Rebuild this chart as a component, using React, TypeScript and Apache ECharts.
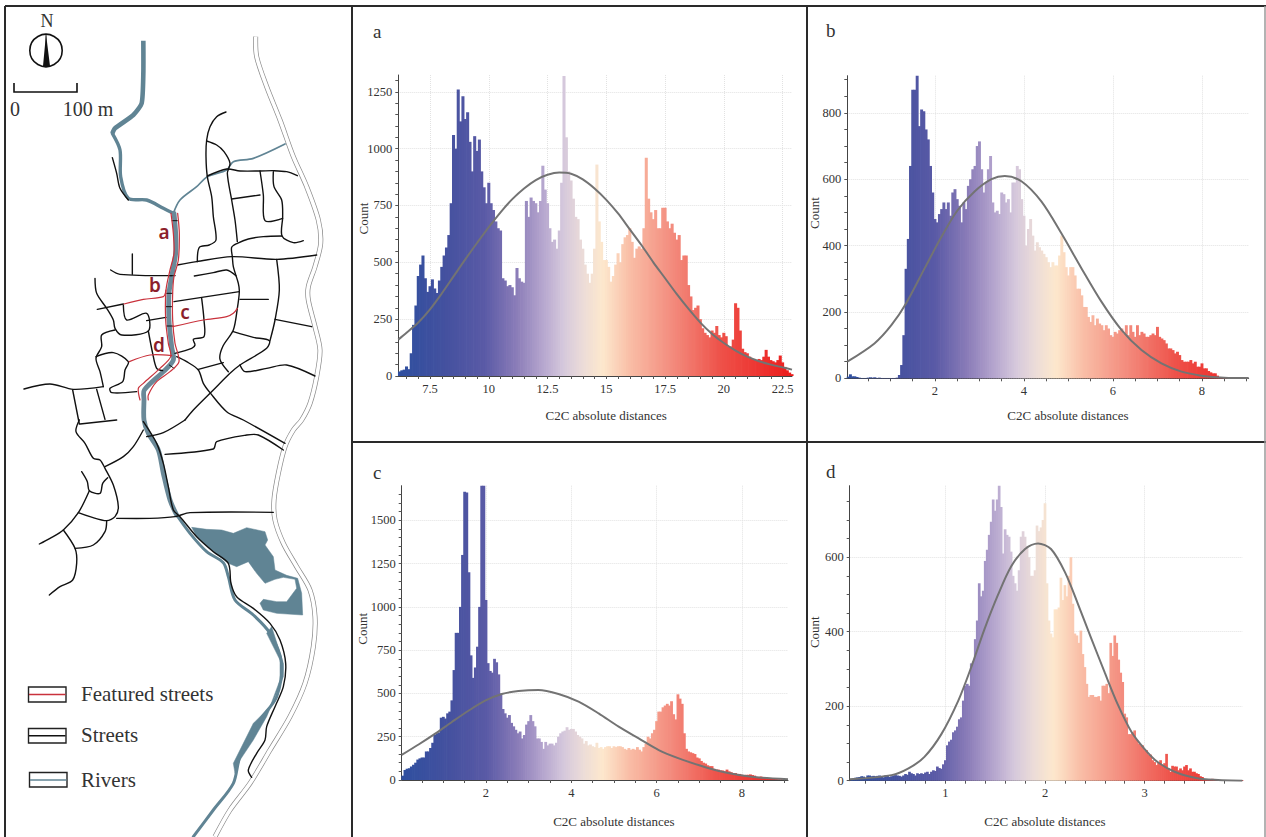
import React, { useEffect, useRef } from "react";
import * as echarts from "echarts";

const SERIF = "'Liberation Serif', serif";
const TEXT = "#333";

// ---------- histogram counts ----------
const A_START = 6.2, A_STEP = 0.1;
const A_COUNTS = [20,25,28,42,30,100,225,310,440,490,530,430,370,395,425,385,365,420,480,530,565,620,760,1060,1000,1260,1120,1230,1130,1160,1030,900,1055,990,1040,900,830,760,850,760,730,680,650,640,430,420,395,400,390,355,475,430,415,410,770,700,785,770,760,720,770,925,820,760,650,590,600,560,640,850,1320,1050,900,860,780,700,690,600,560,490,450,410,450,560,930,680,590,510,510,480,415,440,490,540,500,580,610,620,650,590,520,560,570,560,650,960,780,720,690,730,650,650,740,740,680,650,670,630,600,620,510,530,530,400,350,290,300,310,250,210,190,180,170,200,190,220,180,170,190,175,130,130,160,320,300,200,120,105,100,85,75,75,70,75,70,85,115,85,70,65,60,70,90,60,40,25,15,8];
const A_CURVE_X = [6.15,6.5,7,7.5,8,8.5,9,9.5,10,10.5,11,11.5,12,12.5,13,13.5,14,14.5,15,15.5,16,16.5,17,17.5,18,18.5,19,19.5,20,20.5,21,21.5,22,22.5,22.9];
const A_CURVE_Y = [160,190,235,293,363,438,513,585,655,720,778,825,862,885,895,890,865,825,775,715,645,575,500,430,360,295,235,185,145,112,85,65,50,38,28];

const B_START = 0.05, B_STEP = 0.05;
const B_COUNTS = [5,12,6,6,4,2,1,1,1,2,3,2,3,1,2,1,1,1,1,1,1,1,2,10,40,130,330,420,640,870,870,915,760,810,805,750,720,640,560,480,470,495,510,530,510,530,490,560,570,540,520,470,530,510,580,600,630,640,700,714,630,560,590,630,670,530,500,505,495,560,555,530,540,500,590,590,640,630,540,490,400,450,480,430,385,410,395,385,375,365,350,335,350,340,340,370,430,380,335,310,335,335,310,270,270,250,215,215,185,170,190,160,180,165,160,145,160,150,130,125,140,135,145,150,135,160,130,160,140,125,160,130,140,135,125,125,130,135,130,155,125,120,115,105,90,90,85,75,80,70,55,50,50,50,55,45,50,35,35,45,30,30,22,18,15,15,8,4,3,2,2,1,1,1,1,1,1,1,1,1];
const B_CURVE_X = [0.03,0.64,1.02,1.36,1.77,2.14,2.5,2.89,3.27,3.57,3.95,4.39,4.84,5.29,5.74,6.19,6.64,7.09,7.54,7.99,8.5,9.05];
const B_CURVE_Y = [50,105,160,228,332,425,505,563,600,610,593,533,437,332,231,146,85,45,20,8,2,1];

const C_START = 0.05, C_STEP = 0.05;
const C_COUNTS = [25,58,65,68,78,88,100,118,125,130,130,165,165,185,215,260,270,275,360,365,355,385,395,460,635,850,850,1000,1300,1665,1660,1200,720,590,650,770,1000,1700,1700,1040,675,630,620,700,680,610,500,410,385,360,375,330,310,290,270,280,240,260,320,340,375,340,310,240,240,220,180,220,200,210,210,200,215,250,270,280,285,305,290,295,295,280,260,250,240,210,225,200,205,195,190,215,185,190,180,190,195,195,185,195,190,195,195,190,180,175,185,175,180,175,190,175,165,190,210,250,240,270,290,340,395,395,420,430,440,430,455,380,350,495,470,440,270,180,165,160,155,150,130,125,110,100,95,85,80,80,65,60,60,55,55,50,60,50,45,40,40,35,35,30,28,30,30,32,28,25,18,18,20,16,14,12,10,8,6,5,4,3,2,2];
const C_CURVE_X = [0.024,0.42,0.81,1.2,1.59,1.98,2.37,2.76,3.23,3.7,4.17,4.64,5.11,5.58,6.05,6.52,7,7.46,7.93,8.39,9.08];
const C_CURVE_Y = [145,205,268,335,400,458,497,514,520,497,453,385,308,240,173,125,85,52,29,14,4];

const D_START = 0.06, D_STEP = 0.02;
const D_COUNTS = [4,6,8,9,10,12,11,8,14,14,12,13,12,13,14,10,9,14,15,10,12,14,15,14,13,11,14,18,16,24,20,18,14,20,18,20,18,22,24,18,24,28,26,38,34,32,44,55,95,105,110,130,135,145,165,170,215,255,260,255,315,320,380,430,530,495,510,590,620,660,695,755,725,755,792,735,610,675,660,655,615,550,530,510,565,655,670,655,630,600,550,550,565,685,670,680,700,745,530,430,395,385,460,460,465,545,485,525,495,550,600,475,395,390,370,403,340,305,260,225,230,230,225,225,227,215,255,255,260,235,370,335,390,370,325,290,265,180,170,125,125,130,135,110,100,95,95,82,82,70,70,55,50,42,50,55,42,47,72,33,24,40,38,38,28,33,28,38,42,28,33,24,24,20,18,12,10,4,3,2,2,5,2,1,1,1,1,1,1,1,1,1,1,1,1,1,1];
const D_CURVE_X = [0.04,0.46,0.63,0.79,0.96,1.13,1.26,1.39,1.53,1.66,1.8,1.93,2.06,2.2,2.33,2.46,2.6,2.73,2.87,3,3.13,3.3,3.47,3.64,3.98];
const D_CURVE_Y = [4,15,33,64,125,215,305,405,500,575,622,637,622,560,475,385,290,205,130,85,50,24,10,3,0];

// ---------- axis ticks ----------
const A_X_LABELS = [7.5,10,12.5,15,17.5,20,22.5];
const A_Y_LABELS = [0,250,500,750,1000,1250];
const A_X_TICKS = [6.5,7,7.5,8,8.5,9,9.5,10,10.5,11,11.5,12,12.5,13,13.5,14,14.5,15,15.5,16,16.5,17,17.5,18,18.5,19,19.5,20,20.5,21,21.5,22,22.5];
const A_Y_TICKS = [0,50,100,150,200,250,300,350,400,450,500,550,600,650,700,750,800,850,900,950,1000,1050,1100,1150,1200,1250,1300];
const B_X_LABELS = [2,4,6,8];
const B_Y_LABELS = [0,200,400,600,800];
const B_X_TICKS = [0.5,1,1.5,2,2.5,3,3.5,4,4.5,5,5.5,6,6.5,7,7.5,8,8.5,9];
const B_Y_TICKS = [0,50,100,150,200,250,300,350,400,450,500,550,600,650,700,750,800,850,900];
const C_X_LABELS = [2,4,6,8];
const C_Y_LABELS = [0,250,500,750,1000,1250,1500];
const C_X_TICKS = [0.5,1,1.5,2,2.5,3,3.5,4,4.5,5,5.5,6,6.5,7,7.5,8,8.5,9];
const C_Y_TICKS = [0,50,100,150,200,250,300,350,400,450,500,550,600,650,700,750,800,850,900,950,1000,1050,1100,1150,1200,1250,1300,1350,1400,1450,1500,1550,1600,1650];
const D_X_LABELS = [1,2,3];
const D_Y_LABELS = [0,200,400,600];
const D_X_TICKS = [0.2,0.4,0.6,0.8,1,1.2,1.4,1.6,1.8,2,2.2,2.4,2.6,2.8,3,3.2,3.4,3.6,3.8];
const D_Y_TICKS = [0,50,100,150,200,250,300,350,400,450,500,550,600,650,700,750];

const X_TITLE = "C2C absolute distances";
const Y_TITLE = "Count";

// ---------- map geometry, in map units (3 units to a page pixel) ----------
const low = (p: number[][]): number[][] => p.map(([x, y]) => [x, y + 1260]);

const ROAD: number[][] = [[767,110],[770,170],[800,260],[840,360],[880,470],[920,560],[955,660],[962,730],[945,800],[925,860],[925,900],[945,980],[960,1050],[950,1130],[930,1210],[905,1260],
  ...low([[880,30],[855,80],[835,160],[822,240],[825,300],[850,370],[890,440],[930,510],[945,590],[940,680],[915,790],[870,890],[810,990],[750,1090],[690,1170],[645,1250]])];

const RIVER_TOP: number[][] = [[430,122],[430,220],[425,310],[400,345],[345,385],[337,400]];
const RIVER_UPPER: number[][] = [[337,400],[360,450],[362,530],[385,595],[440,600],[490,625],[520,640]];
const RIVER_TRIB: number[][] = [[520,640],[540,600],[590,560],[622,530],[680,510],[700,485],[760,475],[855,432]];
const RIVER_MAIN: number[][] = [[522,640],[527,700],[527,760],[515,830],[507,880],[507,960],[515,1040],[520,1080],[490,1115],[433,1170],[432,1200],[432,1260],
  ...low([[445,40],[475,90],[490,160],[510,240],[530,285]])];
const RIVER_LOWER: number[][] = low([[530,285],[570,340],[620,395],[670,428],[685,470],[705,540],[760,585],[810,640],[845,730],[830,830],[780,900],[720,1010],[700,1090],[640,1170],[580,1250]]);
const LAKE: number[][] = low([[575,322],[620,328],[665,330],[700,340],[740,323],[795,335],[803,360],[795,375],[820,410],[825,450],[860,466],[893,475],[905,520],[908,585],[830,580],[790,570],[780,550],[790,538],[830,545],[860,545],[890,505],[885,478],[850,472],[825,478],[795,490],[770,460],[745,425],[710,440],[685,430],[640,395],[590,350]]);
const RIVER_WIDE: number[][] = low([[815,620],[850,730],[850,770],[800,890],[760,960],[720,1020],[705,1060],[700,1030],[760,910],[810,860],[840,780],[840,720],[800,640]]);

const STREETS: number[][][] = [
  [[678,336],[650,350],[630,380],[620,420],[618,470],[622,530],[635,590],[640,650],[648,720],[628,735],[598,742],[592,785]],
  [[620,423],[650,435],[672,455],[690,490],[682,520],[695,600],[705,660],[712,725]],
  [[622,528],[680,507],[720,513],[780,513],[820,512],[860,515],[892,527]],
  [[695,597],[780,585]],
  [[780,513],[790,585],[795,662],[848,655]],
  [[820,515],[822,560],[845,600],[848,650],[846,708],[880,728],[910,722]],
  [[846,708],[790,710],[745,717],[712,730],[695,742],[697,770],[700,800],[715,850],[718,875],[712,925],[700,990],[668,1040],[660,1078],[685,1115]],
  [[532,795],[590,785],[695,770],[830,778],[950,765]],
  [[830,778],[838,870],[825,960],[810,1022]],
  [[825,958],[935,980]],
  [[700,995],[760,1012],[808,1022],[800,1045],[720,1095],[690,1120],[640,1170],[580,1230],[555,1260]],
  [[720,898],[805,898]],
  [[583,828],[640,818],[680,810],[708,827]],
  [[522,905],[718,875]],
  [[605,895],[612,960],[612,1010],[580,1018],[585,1035],[575,1045],[525,1060]],
  [[440,962],[498,952]],
  [[397,762],[397,823]],
  [[332,810],[360,823],[515,827]],
  [[285,835],[290,880],[320,925],[340,960],[345,985],[365,1005],[445,993],[440,940],[380,960],[370,915]],
  [[292,928],[370,912]],
  [[445,993],[458,1060],[470,1105],[488,1112]],
  [[345,990],[305,1005],[305,1040],[288,1075],[300,1115],[310,1160]],
  [[288,1070],[340,1058],[385,1085],[375,1110],[368,1145],[330,1165],[335,1178],[410,1175]],
  [[72,1167],[150,1152],[220,1168],[310,1160]],
  [[218,1170],[238,1272]],
  [[290,1168],[315,1258]],
  [[530,1070],[560,1085],[595,1110],[610,1150],[630,1178],[680,1235],[730,1260],[855,1330]],
  [[595,1108],[670,1088]],
  [[720,1095],[735,1115],[800,1105],[860,1095],[945,1128]],
  [[337,473],[350,520],[360,565],[385,600]],
  low([[240,12],[350,0]]),
  low([[238,0],[228,35],[255,70],[280,115],[300,120],[315,145],[340,195],[355,260],[345,290],[320,302],[270,290],[235,278]]),
  low([[315,140],[370,110],[400,80],[430,30]]),
  low([[555,0],[490,38],[440,50]]),
  low([[495,103],[640,87],[650,65],[740,45],[775,45],[850,90]]),
  low([[245,155],[262,185],[268,212],[300,220],[308,190],[323,173]]),
  low([[268,212],[235,278],[190,330],[150,355],[118,372]]),
  low([[190,330],[225,385],[230,430],[218,480],[180,500],[148,525]]),
  low([[225,385],[280,375],[315,335],[320,302]]),
  low([[350,295],[450,295],[525,290],[570,278],[820,277]]),
  low([[430,5],[470,70],[490,130],[505,200],[520,270],[540,290],[590,350],[640,395],[685,430],[693,490],[710,530],[760,565],[810,610],[840,660],[857,730],[850,800],[825,860],[800,920],[795,960],[770,1000],[745,1050],[755,1072]]),
];
const BRIDGES: number[][][] = [
  [[516,662],[532,662]],[[510,827],[526,827]],[[500,880],[518,880]],[[498,920],[518,920]],[[500,978],[520,978]],[[508,1095],[522,1105]],
];
const FEATURED: number[][][] = [
  [[513,640],[520,700],[522,760],[510,810],[498,870],[497,960],[505,1030],[512,1070],[480,1105],[430,1150],[415,1165],[420,1200]],
  [[533,640],[538,700],[535,780],[522,830],[518,880],[518,960],[525,1030],[537,1085],[510,1115],[470,1145],[445,1185],[445,1200]],
  [[372,912],[430,898],[490,890],[498,870]],
  [[518,980],[610,960],[680,950],[700,940],[712,925]],
  [[388,1085],[450,1065],[515,1067]],
];

type MapItem = { pts: number[][]; stroke?: string; fill?: string; w?: number; smooth?: number; cap?: string };
const RIVER_COLOR = "#608494";
const MAP_ITEMS: MapItem[] = [
  { pts: ROAD, stroke: "#8a8a8a", w: 5, smooth: 0.3, cap: "butt" },
  { pts: ROAD, stroke: "#fff", w: 3.6, smooth: 0.3, cap: "butt" },
  { pts: LAKE, fill: RIVER_COLOR },
  { pts: RIVER_WIDE, fill: RIVER_COLOR },
  { pts: RIVER_TOP, stroke: RIVER_COLOR, w: 4.6, smooth: 0.2, cap: "butt" },
  { pts: RIVER_UPPER, stroke: RIVER_COLOR, w: 3.4, smooth: 0.3 },
  { pts: RIVER_TRIB, stroke: RIVER_COLOR, w: 1.7, smooth: 0.3 },
  { pts: RIVER_MAIN, stroke: "#6a8998", w: 4.8, smooth: 0.3 },
  { pts: RIVER_LOWER, stroke: RIVER_COLOR, w: 3, smooth: 0.3 },
  ...STREETS.map((pts) => ({ pts, stroke: "#111", w: 1.4, smooth: 0.3 })),
  ...BRIDGES.map((pts) => ({ pts, stroke: "#111", w: 1 })),
  ...FEATURED.map((pts) => ({ pts, stroke: "#c9323c", w: 1.2, smooth: 0.3 })),
];

// ---------- colour ramp ----------
const RAMP: [number, string][] = [
  [0, "#2e4f9f"],[0.12, "#44519f"],[0.22, "#5a5aa6"],[0.3, "#8a7cb8"],[0.36, "#b1a1cc"],[0.42, "#d5c8dc"],
  [0.47, "#ecdcd8"],[0.52, "#fde8cd"],[0.59, "#f9bda6"],[0.7, "#f38a7c"],[0.82, "#ee5149"],[1, "#ec1c1c"],
];
function rampColor(t: number): string {
  for (let i = 1; i < RAMP.length; i++) {
    if (t <= RAMP[i][0]) {
      const [a, ca] = RAMP[i - 1];
      const [b, cb] = RAMP[i];
      return echarts.color.lerp((t - a) / (b - a), [ca, cb]) as string;
    }
  }
  return RAMP[RAMP.length - 1][1];
}

// ---------- panels ----------
type Panel = {
  rect: { left: number; top: number; width: number; height: number };
  xMin: number; xMax: number; yMax: number;
  start: number; step: number; counts: number[];
  curveX: number[]; curveY: number[];
  xLabels: number[]; yLabels: number[]; xTicks: number[]; yTicks: number[];
  xNameOffset: number; xNameGap: number; yNameGap: number; yNameShift: number;
};
const PANELS: Panel[] = [
  { rect: { left: 398.3, top: 75, width: 393.7, height: 301 }, xMin: 6.15, xMax: 22.9, yMax: 1324, start: A_START, step: A_STEP, counts: A_COUNTS, curveX: A_CURVE_X, curveY: A_CURVE_Y, xLabels: A_X_LABELS, yLabels: A_Y_LABELS, xTicks: A_X_TICKS, yTicks: A_Y_TICKS, xNameOffset: 11, xNameGap: 33, yNameGap: 28, yNameShift: 7 },
  { rect: { left: 847.3, top: 75.7, width: 401.4, height: 302.6 }, xMin: 0.03, xMax: 9.05, yMax: 912, start: B_START, step: B_STEP, counts: B_COUNTS, curveX: B_CURVE_X, curveY: B_CURVE_Y, xLabels: B_X_LABELS, yLabels: B_Y_LABELS, xTicks: B_X_TICKS, yTicks: B_Y_TICKS, xNameOffset: 20, xNameGap: 31, yNameGap: 26, yNameShift: 14 },
  { rect: { left: 401.7, top: 485.7, width: 386.3, height: 294.3 }, xMin: 0.024, xMax: 9.08, yMax: 1700, start: C_START, step: C_STEP, counts: C_COUNTS, curveX: C_CURVE_X, curveY: C_CURVE_Y, xLabels: C_X_LABELS, yLabels: C_Y_LABELS, xTicks: C_X_TICKS, yTicks: C_Y_TICKS, xNameOffset: 19, xNameGap: 35, yNameGap: 33, yNameShift: 4 },
  { rect: { left: 849.7, top: 485.7, width: 392.6, height: 295 }, xMin: 0.04, xMax: 3.98, yMax: 792, start: D_START, step: D_STEP, counts: D_COUNTS, curveX: D_CURVE_X, curveY: D_CURVE_Y, xLabels: D_X_LABELS, yLabels: D_Y_LABELS, xTicks: D_X_TICKS, yTicks: D_Y_TICKS, xNameOffset: -1, xNameGap: 34, yNameGap: 29, yNameShift: 1 },
];

function buildOption() {
  const grid: any[] = [{ left: 0, top: 0, width: 350, height: 837 }];
  const xAxis: any[] = [{ type: "value", gridIndex: 0, min: 0, max: 1050, show: false }];
  const yAxis: any[] = [{ type: "value", gridIndex: 0, min: 0, max: 2511, inverse: true, show: false }];
  const series: any[] = [
    {
      type: "custom",
      xAxisIndex: 0,
      yAxisIndex: 0,
      silent: true,
      clip: false,
      data: MAP_ITEMS.map((_, i) => [i, 0]),
      renderItem: (_p: any, api: any) => {
        const it = MAP_ITEMS[api.value(0) as number];
        const points = it.pts.map((p) => api.coord(p));
        if (it.fill) return { type: "polygon", shape: { points }, style: { fill: it.fill, stroke: it.fill, lineWidth: 0.5, lineJoin: "round" } };
        return {
          type: "polyline",
          shape: { points, smooth: it.smooth ?? 0 },
          style: { stroke: it.stroke, lineWidth: it.w, fill: "none", lineCap: it.cap ?? "round", lineJoin: "round" },
        };
      },
    },
  ];

  PANELS.forEach((p) => {
    // helper grid only for the faint major gridlines behind the bars
    const gi = grid.length;
    grid.push({ ...p.rect });
    const split = { show: true, lineStyle: { color: "#e2e2e2", width: 1, type: "dotted" } };
    xAxis.push({
      type: "value", gridIndex: gi, min: p.xMin, max: p.xMax, axisLine: { show: false },
      axisTick: { show: false, customValues: p.xLabels }, axisLabel: { show: false, customValues: p.xLabels }, splitLine: split,
    });
    yAxis.push({
      type: "value", gridIndex: gi, min: 0, max: p.yMax, axisLine: { show: false },
      axisTick: { show: false, customValues: p.yLabels.filter((v) => v > 0) }, axisLabel: { show: false, customValues: p.yLabels.filter((v) => v > 0) }, splitLine: split,
    });

    const gm = grid.length;
    grid.push({ ...p.rect });
    const label = { color: TEXT, fontFamily: SERIF, fontSize: 12.5, showMinLabel: true, showMaxLabel: true };
    xAxis.push({
      type: "value", gridIndex: gm, min: p.xMin, max: p.xMax,
      axisLine: { show: true, onZero: false, lineStyle: { color: "#444", width: 1 } },
      axisTick: { show: true, length: 3, inside: false, lineStyle: { color: "#555" }, customValues: p.xTicks },
      axisLabel: { ...label, margin: 6, customValues: p.xLabels, formatter: (v: number) => String(v) },
      splitLine: { show: false },
      name: X_TITLE, nameLocation: "middle", nameGap: p.xNameGap, nameMoveOverlap: false,
      nameTextStyle: { color: TEXT, fontFamily: SERIF, fontSize: 13, padding: p.xNameOffset > 0 ? [0, 0, 0, p.xNameOffset * 2] : [0, -p.xNameOffset * 2, 0, 0] },
    });
    yAxis.push({
      type: "value", gridIndex: gm, min: 0, max: p.yMax,
      axisLine: { show: true, onZero: false, lineStyle: { color: "#444", width: 1 } },
      axisTick: { show: true, length: 3, lineStyle: { color: "#555" }, customValues: p.yTicks },
      axisLabel: { ...label, margin: 6, customValues: p.yLabels, formatter: (v: number) => String(v) },
      splitLine: { show: false },
      name: Y_TITLE, nameLocation: "middle", nameGap: p.yNameGap, nameMoveOverlap: false,
      nameTextStyle: { color: TEXT, fontFamily: SERIF, fontSize: 13, padding: [0, 0, 0, p.yNameShift * 2] },
    });

    const pxPerUnit = p.rect.width / (p.xMax - p.xMin);
    series.push({
      type: "bar",
      xAxisIndex: gm,
      yAxisIndex: gm,
      barWidth: p.step * pxPerUnit + 0.7,
      silent: true,
      z: 2,
      data: p.counts.map((c, i) => [p.start + i * p.step, c]),
      itemStyle: {
        color: (d: any) => rampColor((d.value[0] - p.xMin) / (p.xMax - p.xMin)),
      },
    });
    series.push({
      type: "line",
      xAxisIndex: gm,
      yAxisIndex: gm,
      smooth: 0.3,
      symbol: "none",
      silent: true,
      z: 3,
      lineStyle: { color: "#737373", width: 2 },
      data: p.curveX.map((x, i) => [x, p.curveY[i]]),
    });
  });

  const line = (x1: number, y1: number, x2: number, y2: number, stroke = "#2a2a2a", lineWidth = 2) => ({
    type: "line", shape: { x1, y1, x2, y2 }, style: { stroke, lineWidth }, z: 10, silent: true,
  });
  const txt = (text: string, x: number, y: number, fontSize: number, extra: any = {}) => ({
    type: "text", x, y, z: 11, silent: true,
    style: { text, fontFamily: SERIF, fontSize, fill: TEXT, verticalAlign: "middle", ...extra },
  });
  const mapLetter = (text: string, x: number, y: number) =>
    txt(text, x, y, 19, { fontFamily: "'Noto Sans', sans-serif", fontWeight: 600, fill: "#8c1f2c", align: "center" });

  const graphic: any[] = [
    // frames
    line(5, 6, 1266, 6), line(5, 6, 5, 837), line(352, 6, 352, 837), line(807, 6, 807, 837),
    line(352, 442, 1266, 442), line(1265, 6, 1265, 837, "#9a9a9a", 1.5),
    // panel letters
    txt("a", 373, 31, 19), txt("b", 826, 30, 19), txt("c", 373, 472, 19), txt("d", 826, 471, 19),
    // north arrow + scale bar
    txt("N", 47, 21, 18, { align: "center" }),
    { type: "circle", shape: { cx: 46, cy: 50.5, r: 16.2 }, style: { fill: "#fff", stroke: "#111", lineWidth: 1.6 }, z: 10, silent: true },
    { type: "line", shape: { x1: 46, y1: 34, x2: 46, y2: 67 }, style: { stroke: "#111", lineWidth: 0.8 }, z: 11, silent: true },
    { type: "polygon", shape: { points: [[46, 34], [43, 66], [50, 66]] }, style: { fill: "#111" }, z: 11, silent: true },
    { type: "polyline", shape: { points: [[14, 83], [14, 92], [77, 92], [77, 83]] }, style: { stroke: "#111", lineWidth: 1.6, fill: "none" }, z: 10, silent: true },
    txt("0", 15, 109, 20, { align: "center" }), txt("100 m", 88, 109, 20, { align: "center" }),
    // map letters
    mapLetter("a", 164, 232), mapLetter("b", 155, 285), mapLetter("c", 185, 312), mapLetter("d", 159, 345),
    // legend
    { type: "rect", shape: { x: 28.5, y: 687, width: 37.5, height: 15 }, style: { fill: "#fff", stroke: "#222", lineWidth: 1.4 }, z: 10, silent: true },
    line(29, 694.5, 65.5, 694.5, "#c9323c", 1.4),
    txt("Featured streets", 81, 693.5, 21),
    { type: "rect", shape: { x: 28.5, y: 728.5, width: 37.5, height: 14.5 }, style: { fill: "#fff", stroke: "#222", lineWidth: 1.4 }, z: 10, silent: true },
    line(29, 735.7, 65.5, 735.7, "#111", 1.4),
    txt("Streets", 81, 734.5, 21),
    { type: "rect", shape: { x: 29.5, y: 772.5, width: 37.5, height: 14.5 }, style: { fill: "#fff", stroke: "#222", lineWidth: 1.4 }, z: 10, silent: true },
    line(30, 780, 66.5, 780, RIVER_COLOR, 1.6),
    txt("Rivers", 81, 779.5, 21),
  ];

  return { animation: false, backgroundColor: "#fff", grid, xAxis, yAxis, series, graphic, tooltip: { show: false } };
}

export default function App() {
  const ref = useRef<HTMLDivElement>(null);
  useEffect(() => {
    document.body.style.margin = "0";
    const chart = echarts.init(ref.current!, undefined, { renderer: "svg" });
    chart.setOption(buildOption() as any);
    return () => chart.dispose();
  }, []);
  return <div ref={ref} style={{ width: 1266, height: 837 }} />;
}
